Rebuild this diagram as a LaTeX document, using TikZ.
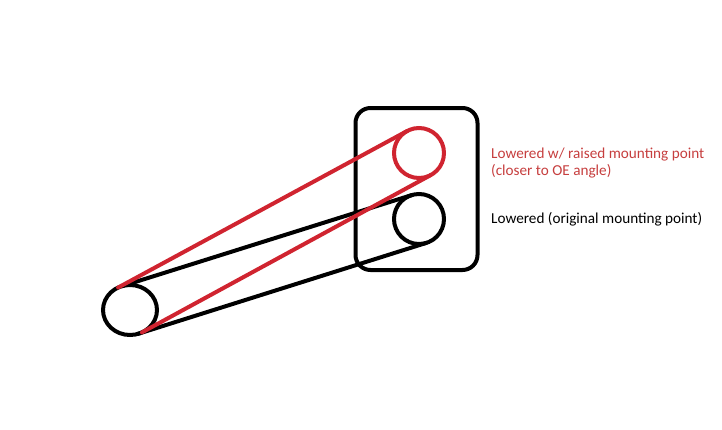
\documentclass[tikz,border=0pt]{standalone}
\usepackage{fontspec}
\setmainfont{Carlito}
\usetikzlibrary{shapes.geometric}
\definecolor{penred}{RGB}{208,36,48}
\definecolor{txtred}{RGB}{198,62,62}
\tikzset{
  pen/.style={line width=4pt, line cap=round},
  wheel/.style={draw, pen, circle, minimum size=50pt, inner sep=0pt, outer sep=0pt},
  lbl/.style={anchor=base west, inner sep=0pt, font=\fontsize{15.2}{17}\selectfont}
}
\begin{document}
\begin{tikzpicture}[x=1pt,y=-1pt]
\useasboundingbox (0,0) rectangle (722,429);
% mount box
\node (box) [draw, pen, rounded corners=15pt, minimum width=122pt, minimum height=162pt, inner sep=0pt, outer sep=0pt] at (416.5,189) {};
% circles
\node (L) [draw, pen, ellipse, minimum width=54pt, minimum height=50pt, inner sep=0pt, outer sep=0pt] at (130,310) {};
\node (B) [wheel] at (419,219) {};
\node (R) [wheel, draw=penred] at (419,153) {};
% black links
\draw[pen] (L.107) -- (B.107);
\draw[pen] (L.-73) -- (B.-73);
% red links
\draw[pen, penred] (L.118) -- (R.118);
\draw[pen, penred] (L.-62) -- (R.-62);
% labels
\node (t1) [lbl, text=txtred] at (491,158) {Lowered w/ raised mounting point};
\node (t2) [lbl, text=txtred] at (491,175) {(closer to OE angle)};
\node (t3) [lbl] at (491,223) {Lowered (original mounting point)};
\end{tikzpicture}
\end{document}
